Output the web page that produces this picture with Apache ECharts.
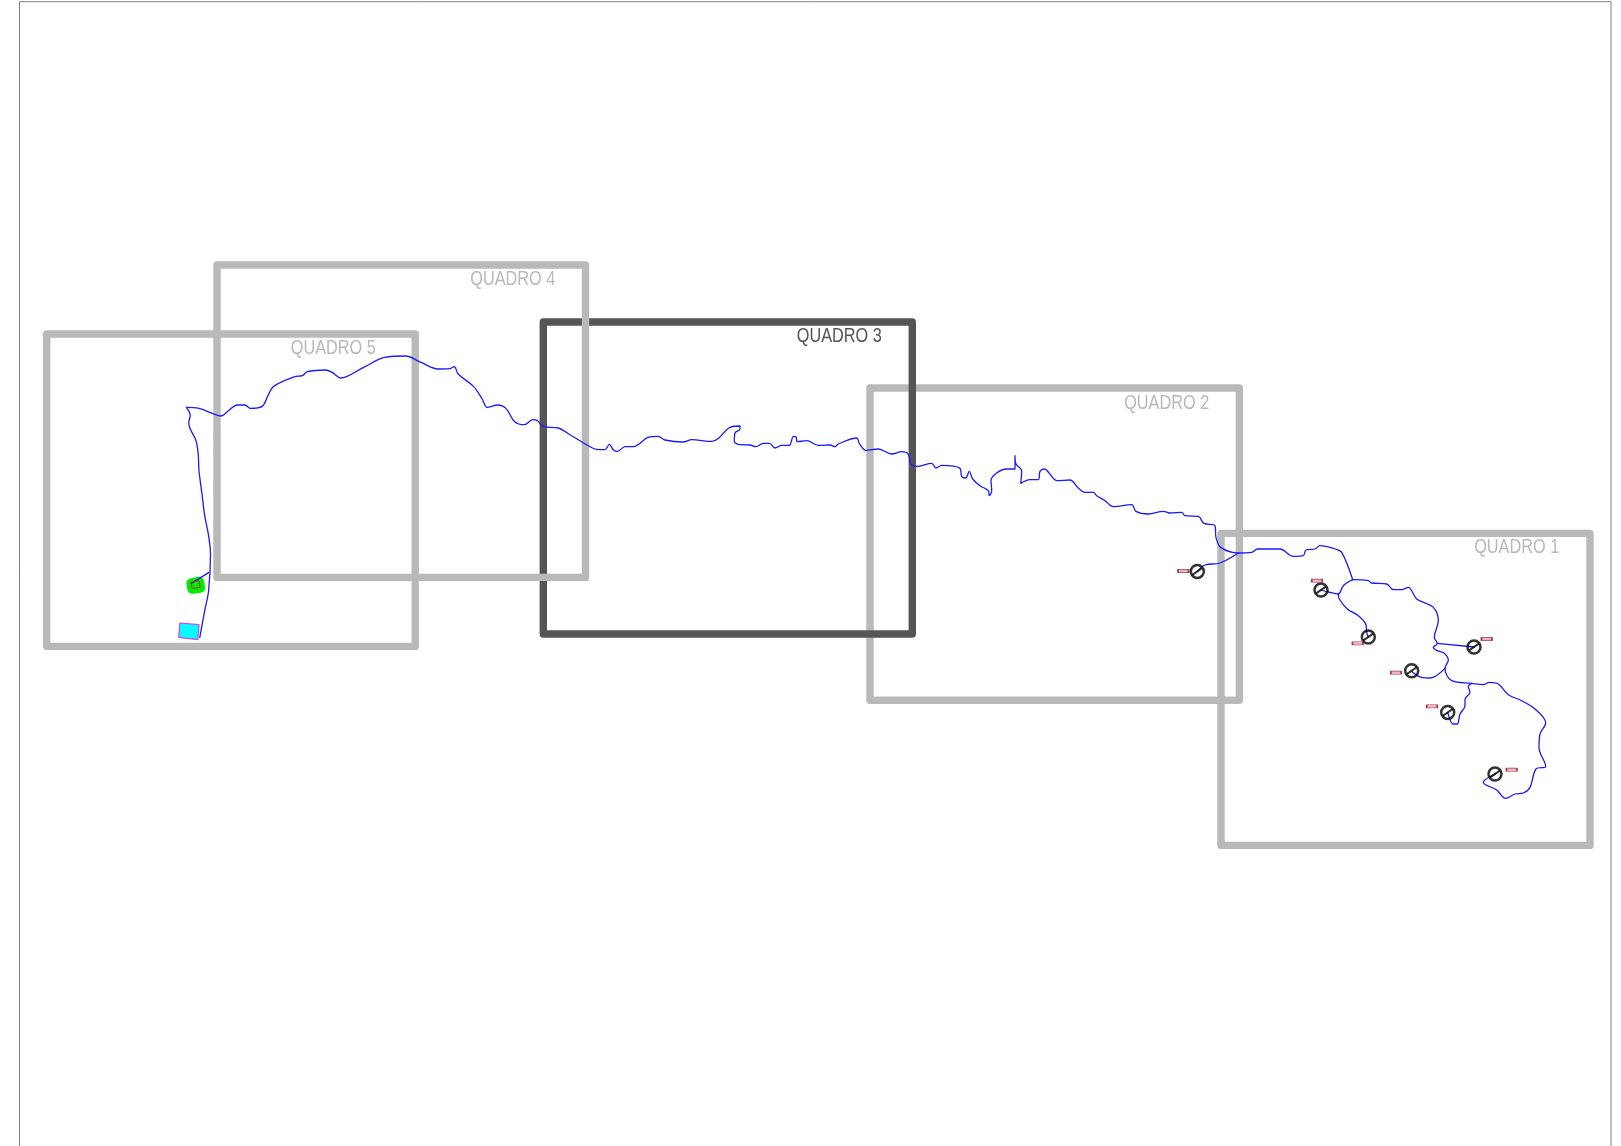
<!DOCTYPE html>
<html>
<head>
<meta charset="utf-8">
<style>html,body{margin:0;padding:0;background:#fff}#c{width:1621px;height:1146px}</style>
<script src="https://cdn.jsdelivr.net/npm/echarts@6/dist/echarts.min.js"></script>
</head>
<body>
<div id="c"></div>
<script>
// Sheet border (open at the bottom)
const sheetBorder = [[19.5,1146],[19.5,1],[1611,1],[1611,1146]];

// Quadro frames: [xLeft, xRight, yTop, yBottom]
const frameNames = ['QUADRO 5','QUADRO 4','QUADRO 3','QUADRO 2','QUADRO 1'];
const frameBoxes = [
  [46.7,415.2,333.3,645.7],
  [217,585.5,264.3,576.7],
  [543.3,912.3,321.3,633.3],
  [870,1239.3,387.3,699.5],
  [1221,1590,532.7,844.7]
];
const frameLabelPos = [[333.3,348],[512.8,279],[839.3,336],[1166.7,402.5],[1516.7,547]];

// Watercourse traces
const riverSouth = [[186.4,406.7],[190.2,414.7],[188.7,422.3],[196,440],[198.2,453.3],[199,470],[202,493.3],[204.7,515],[208.6,535],[210.5,553.3],[208.6,590],[204.7,610],[199.8,636.7]];
const riverBranchPlant = [[209,571.7],[191.4,582.7]];
const riverMain = [[186.4,406.7],[199,407.7],[212.4,412.7],[220.8,415.3],[229.6,409],[237.3,404.3],[244.9,404.3],[250.7,407.7],[262.2,405.7],[267.9,395],[273.6,385.7],[294.7,376],[302.3,375],[307.3,371],[325.3,369.3],[332.2,371.7],[340.6,377.3],[363.6,366.7],[384.6,356.7],[405.7,355.3],[421,361.7],[438.2,368.3],[449.7,368],[454.3,366],[458.1,373.3],[473.4,385.7],[482.2,398.3],[487.2,406.7],[497.5,404.3],[505.9,407.7],[514.7,421],[524.3,424],[532.7,419],[537.7,420],[543.4,426],
[558.3,427.3],[570,434],[590,446],[596.7,448.7],[605,449],[609.3,443.7],[613.3,449],[617.3,450.7],[625,446],[633.3,446],[648.3,436.7],[658.3,435.7],[665,439.3],[683.3,441.3],[691.7,439],[711.7,440.7],[718.3,437.7],[730,426.7],[740,425.3],[740,428.3],[735,432.3],[734.3,440.7],[740,444],[750,444.3],[756,446],[763.3,442.7],[769.3,442.7],[775,447.3],[781.7,444.7],[789.3,444.7],[793.3,436],[796,436],[797.3,441],[806.7,440],[818.3,444.7],[830,444.3],[835,446],[838.3,443.3],[856.7,437.3],[859.3,442.7],[866,449.7],[878.3,448.3],[891.7,453.3],[901.7,451],[908.3,453.3],[910.7,463.3],[916.7,465.7],[931.7,462.7],[936,467.3],[941.7,464.7],[960,467.7],[961.7,476],[965.7,477.3],[969.3,470.7],[972.7,478.3],[980,485],[988.3,490],[989.3,495],[991.7,490],[991,480],[1006.7,468.3],[1015,468.3],[1015,455],[1016,463.3],[1021.7,470],[1020.7,482.7],[1030,479],[1038.3,479],[1040,470.7],[1044,468.3],[1057.3,480],[1070,479.3],[1078.3,487.3],[1085,491.7],[1093.3,491.7],[1096.7,495],[1105,500],[1113.3,506],[1131.7,504],[1136,510.7],[1148.3,513.3],[1163.3,510.7],[1170,512.3],[1181.7,511.7],[1185,515],[1198.3,515.7],[1204,522.7],[1215,525],[1216,536.7],[1220.7,546.7],[1238.3,552.3],[1251.7,551.7],[1257.3,548.3],[1280,548.3],[1293.3,555.7],[1303.3,555],[1306,549.3],[1315,548.3],[1320,545],[1335,548.3],[1341.7,551.7],[1352.7,579]];
const riverEast = [[1352.7,579],[1368.3,580],[1371.7,582.3],[1386.7,583.3],[1393.3,589],[1401.7,589],[1408.3,586.7],[1416.7,598.3],[1433.3,606.7],[1438.3,620],[1434.3,636.7],[1437.3,642.7],[1433.3,646.7],[1437.3,650],[1444,652.3],[1448.3,659.3],[1445,667.7],[1451.7,680],[1471.7,682.7],[1483.3,684],[1489.3,681.7],[1498.3,683.3],[1508.3,694],[1521.7,700],[1535,708.3],[1545.7,722.3],[1540,733.3],[1539,746.7],[1545.7,765.7],[1536,768.3],[1530,786.7],[1523.3,792.3],[1515,793.3],[1505.7,797.7],[1496.7,789.3],[1483.3,781.7],[1495,773.3]];
const tribGauge1 = [[1197.3,570.7],[1205,564.3],[1220,562.3],[1238.3,552.3]];
const tribGauge2 = [[1352.7,579],[1343.3,585],[1338.3,593.3],[1328.3,591.3],[1321,589.3]];
const tribGauge3 = [[1338.3,593.3],[1339.3,598.3],[1347.3,608.3],[1358.3,615],[1366,624],[1366.7,631.7],[1368.3,636.3]];
const tribGauge4 = [[1437.3,642.7],[1474,646.3]];
const tribGauge5 = [[1445,667.7],[1430,677.3],[1421.7,676.7],[1411.7,670.7]];
const tribGauge6 = [[1471.7,682.7],[1468.3,686],[1470,691.7],[1465,698.3],[1465,705],[1460,713.3],[1457.3,723.3],[1453.3,723.3],[1447.7,711.7]];

// Gauges and their tags
const gauges = [[1197.3,570.7],[1321,589.3],[1368.3,636.3],[1474,646.3],[1411.7,670],[1447.7,711.7],[1495,773.3]];
const gaugeTags = [[1183.3,570.3],[1317,580],[1357.7,642.7],[1486.7,638.3],[1396,672],[1432,705.7],[1511.7,769]];
const yellowDot = [[1356,584]];

// Plant polygons
const reservoirCyan = [[179.9,622.3],[199,624],[197.9,639],[178.7,636.7]];
const plantGreen = [[191.4,582.7],[199,581],[200.2,587],[192.2,588]];
const plantRed = [[190.6,581.7],[199,580],[200.2,586.7],[192.2,587.7]];

const DARK = '#555555', LIGHT = '#b9b9b9', BLUE = '#1a1aff';
const FONT = '"Liberation Sans",sans-serif';

function lineSeries(data, color, width, z, extra) {
  return Object.assign({
    type: 'line', data, symbol: 'none', silent: true, animation: false, clip: false, z,
    lineStyle: {color, width, cap: 'round', join: 'round'}
  }, extra || {});
}
function polygonSeries(points, fill, stroke, strokeWidth, z) {
  return {
    type: 'custom', coordinateSystem: 'cartesian2d', silent: true, animation: false, clip: false, z,
    data: [[points[0][0], points[0][1]]],
    renderItem: (p, api) => ({
      type: 'polygon',
      shape: {points: points.map(q => api.coord(q))},
      style: {fill, stroke, lineWidth: strokeWidth, lineJoin: 'round'}
    })
  };
}
function textSeries(pos, text, color, z) {
  return {
    type: 'custom', coordinateSystem: 'cartesian2d', silent: true, animation: false, clip: false, z,
    data: [pos],
    renderItem: (p, api) => {
      const c = api.coord(pos);
      return {type:'text', x:c[0], y:c[1], scaleX:0.775,
        style:{text, fill:color, font:'21px '+FONT, textAlign:'center', textVerticalAlign:'middle'}};
    }
  };
}
function boxPath(b) { return [[b[0],b[2]],[b[1],b[2]],[b[1],b[3]],[b[0],b[3]],[b[0],b[2]]]; }

const series = [];
series.push(lineSeries(sheetBorder, '#808080', 1, 1, {lineStyle:{color:'#808080',width:1,cap:'butt',join:'miter'}}));
// stacking: light frames 1,2 below dark frame 3, light frames 4,5 above it
[4,3,2,0,1].forEach((i, n) => {
  series.push(lineSeries(boxPath(frameBoxes[i]), i === 2 ? DARK : LIGHT, 7.4, 2 + n));
  series.push(textSeries(frameLabelPos[i], frameNames[i], i === 2 ? DARK : LIGHT, 20));
});
series.push(polygonSeries(plantGreen, '#00ee00', '#00ee00', 10, 10));
series.push(polygonSeries(plantRed, 'none', '#c03010', 1, 12));
series.push(polygonSeries(reservoirCyan, '#00ffff', '#e040e0', 1.2, 10));
[riverSouth, riverBranchPlant, riverMain, riverEast, tribGauge1, tribGauge2, tribGauge3, tribGauge4, tribGauge5, tribGauge6]
  .forEach(d => series.push(lineSeries(d, BLUE, 1.3, 11, {smooth: 0.35})));
series.push({type:'scatter',silent:true,animation:false,z:13,data:gauges,symbol:'circle',symbolSize:13,
  itemStyle:{color:'rgba(255,255,255,0)',borderColor:'#000',borderWidth:2.5}});
series.push({type:'scatter',silent:true,animation:false,z:14,data:gauges,symbol:'rect',symbolSize:[12,2],symbolRotate:35,
  itemStyle:{color:'#000'}});
series.push({type:'scatter',silent:true,animation:false,z:13,data:gaugeTags,symbol:'rect',symbolSize:[10.5,3.2],
  itemStyle:{color:'#e8a0b0',borderColor:'#8c1c34',borderWidth:1}});
series.push({type:'scatter',silent:true,animation:false,z:13,data:yellowDot,symbol:'circle',symbolSize:1.5,itemStyle:{color:'#ffff33'}});

const chart = echarts.init(document.getElementById('c'), null, {renderer:'canvas'});
chart.setOption({
  animation: false,
  backgroundColor: '#ffffff',
  grid: {left:0, right:0, top:0, bottom:0, containLabel:false},
  xAxis: {type:'value', min:0, max:1621, show:false},
  yAxis: {type:'value', min:-0.7, max:1145.3, inverse:true, show:false},
  tooltip: {show:false}, legend: {show:false},
  series
});
</script>
</body>
</html>
